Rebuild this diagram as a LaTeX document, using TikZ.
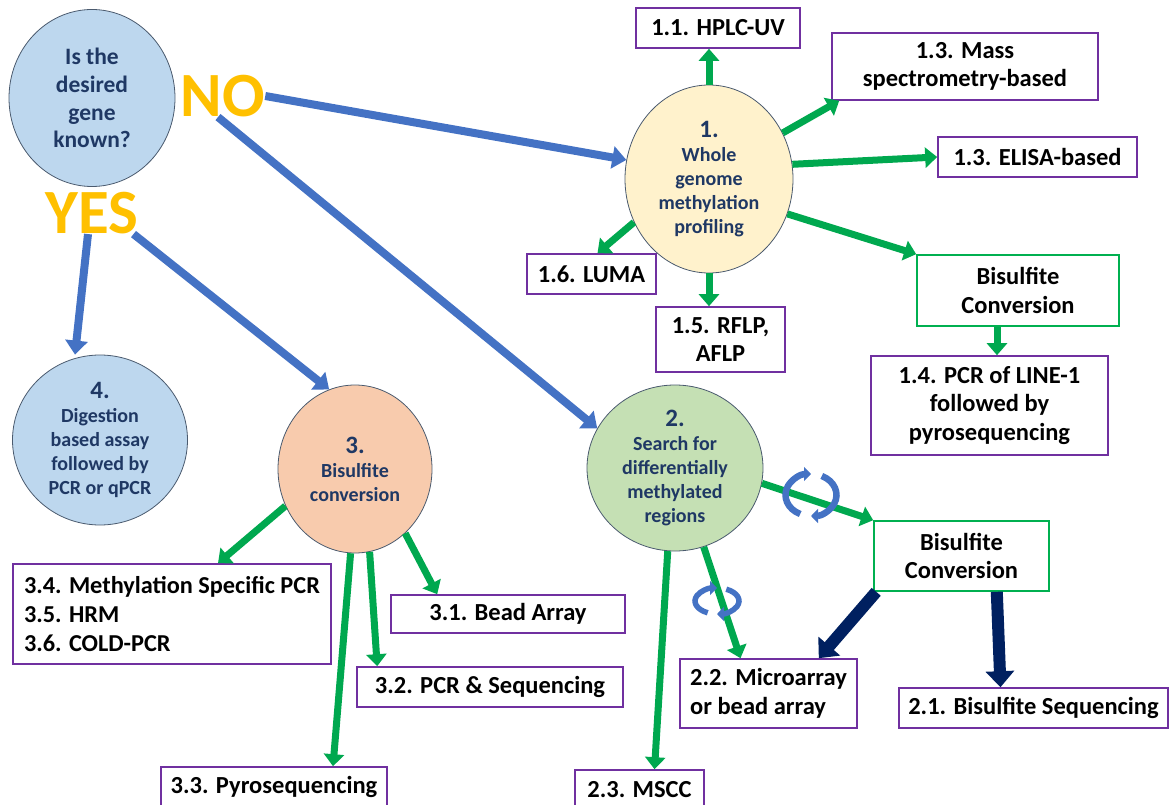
\documentclass[tikz,border=0pt]{standalone}
\usepackage{fontspec}
\setmainfont{Carlito}
\usetikzlibrary{shapes.geometric,arrows.meta}
\definecolor{qfill}{HTML}{BDD7EE}
\definecolor{yfill}{HTML}{FFF2CC}
\definecolor{pfill}{HTML}{F8CBAD}
\definecolor{sfill}{HTML}{C5E0B4}
\definecolor{rim}{HTML}{4A5A6E}
\definecolor{navytext}{HTML}{1F3864}
\definecolor{gold}{HTML}{FFC000}
\definecolor{boxpurple}{HTML}{7030A0}
\definecolor{boxgreen}{HTML}{00B050}
\definecolor{arrblue}{HTML}{4472C4}
\definecolor{arrgreen}{HTML}{00A84F}
\definecolor{arrnavy}{HTML}{002060}

\begin{document}
\begin{tikzpicture}[x=1pt, y=-1pt,
blob/.style={ellipse, draw=rim, line width=0.8pt, inner sep=-15pt, align=center,
  text=navytext, font=\bfseries\fontsize{20}{24}\selectfont},
box/.style={draw=boxpurple, line width=1.6pt, inner sep=0pt, align=center,
  font=\bfseries\fontsize{24.5}{28.5}\selectfont},
gbox/.style={box, draw=boxgreen},
yn/.style={text=gold, inner sep=0pt, font=\bfseries\fontsize{63}{63}\selectfont},
barr/.style={draw=arrblue, line width=8pt, -{Triangle[length=14pt,width=22pt]}},
garr/.style={draw=arrgreen, line width=7pt, -{Triangle[length=12pt,width=20pt]}},
narr/.style={draw=arrnavy, line width=12pt, -{Triangle[length=16pt,width=28pt]}},
cyc/.style={draw=arrblue, line width=6.5pt, -{Triangle[length=7pt,width=14pt]}}
]
\useasboundingbox (0,0) rectangle (1171,805);

% question and answers
\node[blob, fill=qfill, minimum width=166pt, minimum height=177pt,
  font=\bfseries\fontsize{23.5}{27.7}\selectfont] (gene) at (92,98) {Is the\\desired\\gene\\known?};
\node[yn] (no) at (223,96) {NO};
\node[yn] (yes) at (92,213) {YES};

% the four routes
\node[blob, fill=yfill, minimum width=168pt, minimum height=188pt] (whole) at (709,179)
  {{\fontsize{25}{26}\selectfont 1.}\\Whole\\genome\\methylation\\profiling};
\node[blob, fill=sfill, minimum width=176pt, minimum height=166pt] (dmr) at (675,468)
  {{\fontsize{25}{26}\selectfont 2.}\\Search for\\differentially\\methylated\\regions};
\node[blob, fill=pfill, minimum width=154pt, minimum height=168pt] (bisc) at (355,469)
  {{\fontsize{25}{26}\selectfont 3.}\\Bisulfite\\conversion};
\node[blob, fill=qfill, minimum width=175pt, minimum height=170pt] (digest) at (100,440)
  {{\fontsize{25}{26}\selectfont 4.}\\Digestion\\based assay\\followed by\\PCR or qPCR};

% methods
\node[box, minimum width=164pt, minimum height=40pt] (hplc) at (718,28) {1.1. HPLC-UV};
\node[box, minimum width=266pt, minimum height=67pt] (mass) at (965,66.5) {1.3. Mass\\spectrometry-based};
\node[box, minimum width=199pt, minimum height=40pt] (elisa) at (1037.5,157) {1.3. ELISA-based};
\node[box, minimum width=129pt, minimum height=40pt] (luma) at (591.5,274) {1.6. LUMA};
\node[box, minimum width=129pt, minimum height=65pt] (rflp) at (720.5,339.5) {1.5. RFLP,\\AFLP};
\node[gbox, minimum width=202pt, minimum height=71pt] (bisA) at (1018,290.5) {Bisulfite\\Conversion};
\node[box, minimum width=237pt, minimum height=99pt] (line1) at (989.5,405.5) {1.4. PCR of LINE-1\\followed by\\pyrosequencing};
\node[gbox, minimum width=175pt, minimum height=70pt] (bisB) at (961.5,556) {Bisulfite\\Conversion};
\node[box, minimum width=269pt, minimum height=40pt] (bsseq) at (1033.5,708) {2.1. Bisulfite Sequencing};
\node[box, align=left, minimum width=177pt, minimum height=69pt] (micro) at (768.5,693.5) {2.2. Microarray\\or bead array};
\node[box, minimum width=129pt, minimum height=40pt] (mscc) at (639.5,790) {2.3. MSCC};
\node[box, minimum width=234pt, minimum height=38pt] (bead) at (508,614) {3.1. Bead Array};
\node[box, minimum width=266pt, minimum height=40pt] (pcrseq) at (490,687) {3.2. PCR \& Sequencing};
\node[box, minimum width=226pt, minimum height=40pt] (pyro) at (274,787) {3.3. Pyrosequencing};
\node[box, align=left, minimum width=318pt, minimum height=100pt,
  font=\bfseries\fontsize{24.3}{29}\selectfont] (msp) at (172,614)
  {3.4. Methylation Specific PCR\\3.5. HRM\\3.6. COLD-PCR};

% blue
\draw[barr] (no.east) -- (whole.167);
\draw[barr] ([xshift=-5pt]no.south) -- (dmr.153);
\draw[barr] ([xshift=-4pt]yes.south) -- ([xshift=-25pt]digest.north);
\draw[barr] ([xshift=-5pt]yes.south east) -- (bisc.108);

% green
\draw[garr] (whole.north) -- (whole.north |- hplc.south);
\draw[garr] (whole.32) -- ([xshift=8pt]mass.south west);
\draw[garr] (whole.10) -- (elisa.west);
\draw[garr] (whole.-24) -- (bisA.north west);
\draw[garr] (whole.210) -- ([xshift=6pt]luma.north);
\draw[garr] (whole.south) -- (whole.south |- rflp.north);
\draw[garr] ([xshift=-21pt]bisA.south) -- ([xshift=-21pt]bisA.south |- line1.north);
\draw[garr] (dmr.-10) -- (bisB.north west);
\draw[garr] (dmr.-70) -- ([xshift=-28pt]micro.north);
\draw[garr] (dmr.-95) -- ([xshift=15pt]mscc.north);
\draw[garr] (bisc.208) -- ([xshift=46pt]msp.north);
\draw[garr] (bisc.-93) -- ([xshift=59pt]pyro.north);
\draw[garr] (bisc.-80) -- ([xshift=21pt]pcrseq.north west);
\draw[garr] (bisc.-52) -- ([xshift=47pt]bead.north west);

% navy
\draw[narr] ([xshift=3pt]bisB.south west) -- ([xshift=-39pt]micro.north east);
\draw[narr] ([xshift=-53pt]bisB.south east) -- ([xshift=-33pt]bsseq.north);

% rotation marks
\coordinate (spinA) at (811,495);
\coordinate (spinB) at (717,601);
\draw[cyc] (spinA) ++(-245:25.5 and 21) arc[start angle=-245, end angle=-90, x radius=25.5, y radius=21];
\draw[cyc] (spinA) ++(-65:25.5 and 21) arc[start angle=-65, end angle=90, x radius=25.5, y radius=21];
\draw[cyc, line width=5.5pt] (spinB) ++(-245:22 and 13) arc[start angle=-245, end angle=-90, x radius=22, y radius=13];
\draw[cyc, line width=5.5pt] (spinB) ++(-65:22 and 13) arc[start angle=-65, end angle=90, x radius=22, y radius=13];
\end{tikzpicture}
\end{document}
